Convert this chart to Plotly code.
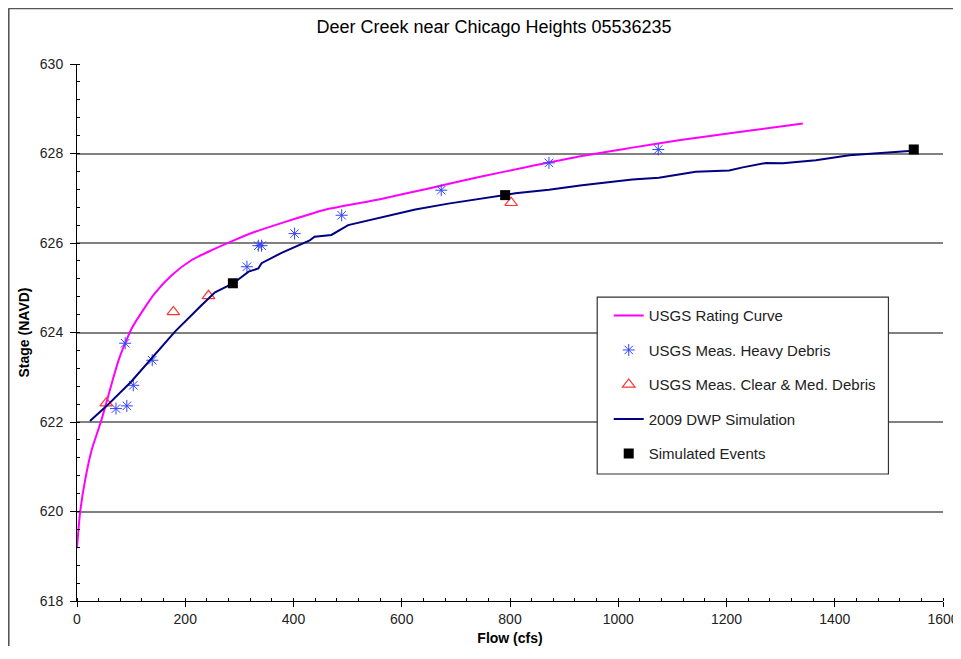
import plotly.graph_objects as go

# Data
rating_flow = [0, 5.5, 15, 27, 44, 54, 66, 76, 89, 101, 120, 144, 175, 212, 249, 292, 329, 366, 400, 460, 560, 650, 745, 840, 930, 1020, 1115, 1230, 1341]
rating_stage = [619.18, 619.96, 620.7, 621.37, 622.0, 622.42, 622.94, 623.35, 623.76, 624.09, 624.46, 624.88, 625.28, 625.62, 625.84, 626.07, 626.25, 626.4, 626.53, 626.75, 626.98, 627.22, 627.48, 627.72, 627.94, 628.12, 628.3, 628.49, 628.67]

heavy_flow = [72, 89, 92, 104, 139, 314, 335, 341, 402, 489, 673, 872, 1074]
heavy_stage = [622.3, 623.76, 622.36, 622.82, 623.38, 625.47, 625.94, 625.94, 626.21, 626.62, 627.18, 627.79, 628.09]

clear_flow = [54, 178, 243, 802]
clear_stage = [622.42, 624.46, 624.82, 626.9]

sim_flow = [24, 54, 100, 132, 181, 230, 255, 289, 317, 335, 341, 378, 403, 430, 439, 470, 501, 563, 625, 686, 748, 810, 872, 933, 1026, 1075, 1143, 1205, 1230, 1273, 1304, 1365, 1427, 1489, 1544]
sim_stage = [622.02, 622.35, 622.9, 623.35, 624.02, 624.61, 624.9, 625.1, 625.36, 625.43, 625.55, 625.78, 625.92, 626.06, 626.14, 626.18, 626.4, 626.57, 626.75, 626.88, 627.0, 627.11, 627.19, 627.29, 627.42, 627.46, 627.59, 627.62, 627.69, 627.79, 627.78, 627.85, 627.96, 628.02, 628.06]

event_flow = [288, 791, 1546]
event_stage = [625.1, 627.07, 628.09]

x_ticks = [0, 200, 400, 600, 800, 1000, 1200, 1400, 1600]
y_ticks = [618, 620, 622, 624, 626, 628, 630]

FONT = "Liberation Sans, Arial, sans-serif"

fig = go.Figure()
fig.add_trace(go.Scatter(x=rating_flow, y=rating_stage, mode="lines", name="USGS Rating Curve",
                         line=dict(color="#ff00ff", width=2, shape="spline", smoothing=0.6), legendgroup="a"))
fig.add_trace(go.Scatter(x=heavy_flow, y=heavy_stage, mode="markers", name="USGS Meas. Heavy Debris",
                         marker=dict(symbol="asterisk-open", size=10, color="#3344ff", line=dict(color="#3344ff", width=1)), legendgroup="b"))
fig.add_trace(go.Scatter(x=clear_flow, y=clear_stage, mode="markers", name="USGS Meas. Clear & Med. Debris",
                         marker=dict(symbol="triangle-up-open", size=11, color="#ff3333", line=dict(color="#ff3333", width=1.2)), legendgroup="c"))
fig.add_trace(go.Scatter(x=sim_flow, y=sim_stage, mode="lines", name="2009 DWP Simulation",
                         line=dict(color="#000080", width=2), legendgroup="d"))
fig.add_trace(go.Scatter(x=event_flow, y=event_stage, mode="markers", name="Simulated Events",
                         marker=dict(symbol="square", size=10, color="black"), legendgroup="e"))

# The page body adds an 8px margin; size and margins compensate for it.
fig.update_layout(
    width=953, height=638,
    margin=dict(l=69, r=18, t=56, b=45),
    paper_bgcolor="white", plot_bgcolor="white",
    font=dict(family=FONT, size=14, color="black"),
    title=dict(text="Deer Creek near Chicago Heights 05536235", x=0.51, xanchor="center",
               y=0.97, yanchor="middle", font=dict(size=18, family=FONT, color="black")),
    showlegend=True,
    legend=dict(x=0.614, y=0.562, xanchor="left", yanchor="top", bgcolor="rgba(0,0,0,0)",
                borderwidth=0, font=dict(size=15, family=FONT, color="#222"),
                tracegroupgap=12, itemwidth=30),
    shapes=[
        dict(type="rect", xref="paper", yref="paper", x0=0.6007, x1=0.937, y0=0.2365, y1=0.566,
             line=dict(color="#333", width=1.2), fillcolor="white", layer="above"),
        dict(type="line", xref="paper", yref="paper", x0=-0.079, x1=1.05, y0=1.104, y1=1.104,
             line=dict(color="#555", width=2)),
        dict(type="line", xref="paper", yref="paper", x0=-0.079, x1=-0.079, y0=1.104, y1=-0.15,
             line=dict(color="#555", width=2)),
    ],
)
fig.update_xaxes(range=[0, 1600], tickvals=x_ticks, ticks="outside", ticklen=5, tickcolor="black",
                 showline=True, linecolor="black", linewidth=1, showgrid=False, zeroline=False,
                 automargin=False,
                 title=dict(text="<b>Flow (cfs)</b>", font=dict(size=14, family=FONT), standoff=10),
                 tickfont=dict(size=14, family=FONT, color="#222"),
                 minor=dict(dtick=40, ticks="inside", ticklen=3, tickcolor="black", showgrid=False))
fig.update_yaxes(range=[618, 630], tickvals=y_ticks, ticks="outside", ticklen=6, tickcolor="black",
                 showline=True, linecolor="black", linewidth=1, showgrid=True, gridcolor="#808080",
                 gridwidth=1.5, zeroline=False, ticklabelstandoff=4, automargin=False,
                 title=dict(text="<b>Stage (NAVD)</b>", font=dict(size=14, family=FONT), standoff=6),
                 tickfont=dict(size=14, family=FONT, color="#222"),
                 minor=dict(dtick=0.4, ticks="inside", ticklen=3, tickcolor="black", showgrid=False))

fig.write_html("out.html")
